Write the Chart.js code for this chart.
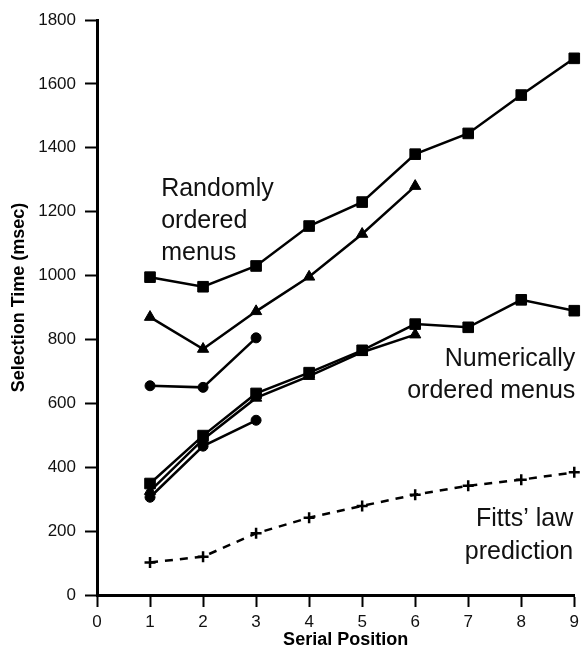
<!DOCTYPE html>
<html>
<head>
<meta charset="utf-8">
<script src="https://cdn.jsdelivr.net/npm/chart.js@4/dist/chart.umd.min.js"></script>
<style>
  html, body { margin: 0; padding: 0; background: #fff; }
  #wrap { width: 584px; height: 651px; }
</style>
</head>
<body>
<div id="wrap"><canvas id="c" width="584" height="651"></canvas></div>
<script>
// Serial positions of the menu items
const positions = [1, 2, 3, 4, 5, 6, 7, 8, 9];

// Randomly ordered menus (msec)
const randomSquares   = [995, 965, 1030, 1155, 1230, 1380, 1445, 1565, 1680];
const randomTriangles = [870, 770, 888, 996, 1130, 1280];
const randomCircles   = [655, 650, 805];

// Numerically ordered menus (msec)
const numericSquares   = [349, 499, 631, 696, 766, 848, 838, 924, 890];
const numericTriangles = [325, 487, 617, 685, 760, 815];
const numericCircles   = [306, 466, 547];

// Fitts' law prediction (msec)
const fittsPrediction = [102, 120, 193, 242, 279, 314, 342, 361, 384];

// Axis ticks
const xTicks = [0, 1, 2, 3, 4, 5, 6, 7, 8, 9];
const yTicks = [0, 200, 400, 600, 800, 1000, 1200, 1400, 1600, 1800];

const FONT = '"Liberation Sans", Arial, Helvetica, sans-serif';

function pts(values) {
  return values.map((v, i) => ({ x: positions[i], y: v }));
}

function series(values, style, radius, extra) {
  return Object.assign({
    data: pts(values),
    borderColor: '#000',
    backgroundColor: '#000',
    borderWidth: 2.5,
    pointStyle: style,
    pointRadius: radius,
    pointHoverRadius: radius,
    pointBorderWidth: 1,
    pointBackgroundColor: '#000',
    pointBorderColor: '#000',
    tension: 0,
    fill: false,
    clip: false
  }, extra || {});
}

// Free-standing text: series captions and axis titles
const captions = {
  id: 'captions',
  afterDraw(chart) {
    const { ctx, scales: { x, y }, chartArea } = chart;
    ctx.save();
    ctx.fillStyle = '#111';
    ctx.textBaseline = 'alphabetic';
    ctx.font = '25px ' + FONT;

    ctx.textAlign = 'left';
    const rx = x.getPixelForValue(1.21);
    const ry = y.getPixelForValue(1248);
    ['Randomly', 'ordered', 'menus'].forEach((t, i) => ctx.fillText(t, rx, ry + i * 31.7));

    ctx.textAlign = 'right';
    const nx = x.getPixelForValue(9.02);
    const ny = y.getPixelForValue(718);
    ['Numerically', 'ordered menus'].forEach((t, i) => ctx.fillText(t, nx, ny + i * 32.3));

    const fx = x.getPixelForValue(8.98);
    const fy = y.getPixelForValue(215);
    ["Fitts\u2019 law", 'prediction'].forEach((t, i) => ctx.fillText(t, fx, fy + i * 32.5));

    // axis titles
    ctx.fillStyle = '#000';
    ctx.font = 'bold 18px ' + FONT;
    ctx.textAlign = 'center';
    ctx.textBaseline = 'middle';
    ctx.fillText('Serial Position', (chartArea.left + chartArea.right) / 2 + 10, chartArea.bottom + 45);

    ctx.translate(19.5, (chartArea.top + chartArea.bottom) / 2 - 10);
    ctx.rotate(-Math.PI / 2);
    ctx.fillText('Selection Time (msec)', 0, 0);
    ctx.restore();
  }
};

const axisGrid = {
  drawOnChartArea: false,
  drawTicks: true,
  tickLength: 12,
  tickWidth: 2,
  tickColor: '#000',
  color: '#000'
};

new Chart(document.getElementById('c'), {
  type: 'line',
  data: {
    datasets: [
      series(randomSquares, 'rect', 7.5),
      series(randomTriangles, 'triangle', 6.5),
      series(randomCircles, 'circle', 5),
      series(numericSquares, 'rect', 7.5),
      series(numericTriangles, 'triangle', 6.5),
      series(numericCircles, 'circle', 5),
      series(fittsPrediction, 'cross', 5.5, { borderDash: [8, 7], pointBorderWidth: 2.5 })
    ]
  },
  options: {
    responsive: false,
    animation: false,
    events: [],
    layout: { padding: { top: 20, right: 7, left: 0, bottom: 0 } },
    plugins: {
      legend: { display: false },
      tooltip: { enabled: false }
    },
    scales: {
      x: {
        type: 'linear',
        min: 0,
        max: 9,
        afterFit(s) { s.height = 56; },
        afterBuildTicks(s) { s.ticks = xTicks.map(v => ({ value: v })); },
        border: { display: true, color: '#000', width: 3 },
        grid: axisGrid,
        ticks: {
          padding: 5,
          color: '#111',
          font: { family: FONT, size: 17 },
          maxRotation: 0,
          callback: v => String(v)
        },
        title: { display: false }
      },
      y: {
        type: 'linear',
        min: 0,
        max: 1800,
        afterFit(s) { s.width = 97; },
        afterBuildTicks(s) { s.ticks = yTicks.map(v => ({ value: v })); },
        border: { display: true, color: '#000', width: 3 },
        grid: axisGrid,
        ticks: {
          padding: 9,
          color: '#111',
          font: { family: FONT, size: 17 },
          callback: v => String(v)
        },
        title: { display: false }
      }
    }
  },
  plugins: [captions]
});
</script>
</body>
</html>
